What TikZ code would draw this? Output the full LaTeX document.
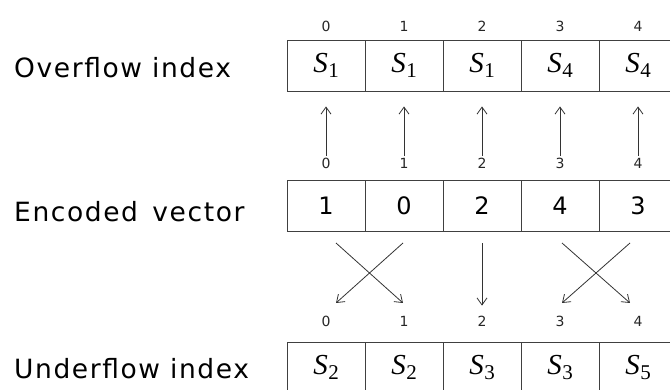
\documentclass[tikz,border=0pt]{standalone}
\usepackage{fontspec}
\setmainfont{DejaVu Sans}
\newfontfamily\labelfont[LetterSpace=6]{DejaVu Sans}
\newfontfamily\symfont{Liberation Serif}
\usetikzlibrary{arrows.meta}
% italic S with an upright, fairly large subscript digit
\newcommand{\Ssub}[1]{{\symfont\itshape S}\kern0.5pt\raisebox{-5pt}{\symfont\fontsize{21}{21}\selectfont #1}}
\begin{document}
\begin{tikzpicture}[x=1pt,y=-1pt,
  cell/.style={draw=black!75, line width=0.9pt, minimum width=78pt, minimum height=51pt,
    inner sep=0pt, anchor=center, font=\fontsize{24}{28}\selectfont},
  mcell/.style={cell, font=\fontsize{29}{34}\selectfont},
  idx/.style={inner sep=0pt, font=\fontsize{14}{16}\selectfont, text=black!85},
  rowlabel/.style={anchor=base west, inner sep=0pt, font=\labelfont\fontsize{26.5}{30}\selectfont},
  arr/.style={draw=black!80, line width=0.8pt, -{Straight Barb[length=7pt,width=10pt]}}]
  \useasboundingbox (0,0) rectangle (670,390);
  \clip (0,0) rectangle (670,390);

  % row labels
  \node[rowlabel] (lo) at (14,78) {Overflow index};
  \node[rowlabel] (le) at (14,222) {Encoded\, vector};
  \node[rowlabel] (lu) at (14,378) {Underflow index};

  % overflow index row
  \foreach \i/\v in {0/1,1/1,2/1,3/4,4/4} {
    \node[mcell] (o\i) at (326+78*\i,65.5) {\Ssub{\v}};
    \node[idx] (io\i) at (326+78*\i,26) {\i};
  }
  % encoded vector row
  \foreach \i/\v in {0/1,1/0,2/2,3/4,4/3} {
    \node[cell] (e\i) at (326+78*\i,205.5) {\v};
    \node[idx] (ie\i) at (326+78*\i,163) {\i};
  }
  % underflow index row
  \foreach \i/\v in {0/2,1/2,2/3,3/3,4/5} {
    \node[mcell] (u\i) at (326+78*\i,367.5) {\Ssub{\v}};
    \node[idx] (iu\i) at (326+78*\i,321) {\i};
  }

  % encoded values point up to the overflow index
  \foreach \i in {0,...,4}
    \draw[arr, shorten <=2pt, shorten >=15pt] (ie\i.north) -- (o\i.south);

  % swaps and straight pass to the underflow index
  \coordinate (a0) at (336,243);  \coordinate (b0) at (336,303);
  \coordinate (a1) at (403,243);  \coordinate (b1) at (403,303);
  \coordinate (a3) at (562,243);  \coordinate (b3) at (562,303);
  \coordinate (a4) at (630,243);  \coordinate (b4) at (630,303);
  \draw[arr] (a0) -- (b1);
  \draw[arr] (a1) -- (b0);
  \draw[arr, shorten <=12pt, shorten >=10pt] (e2.south) -- (iu2.north);
  \draw[arr] (a3) -- (b4);
  \draw[arr] (a4) -- (b3);
\end{tikzpicture}
\end{document}
